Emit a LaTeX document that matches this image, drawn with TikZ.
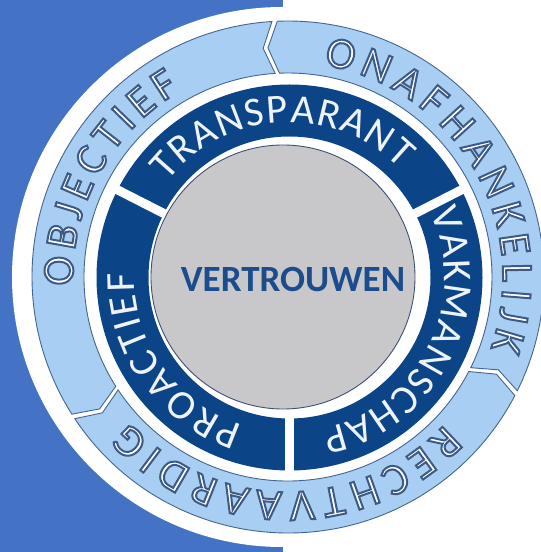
\documentclass[tikz,border=0pt]{standalone}
\usepackage{fontspec}
\setmainfont{Carlito}
\newfontfamily\ringfont{Carlito}
\newfontfamily\ringfontedge[FakeBold=4.5]{Carlito}
\usetikzlibrary{decorations.text}

\definecolor{bgblue}{HTML}{4472C4}
\definecolor{lightring}{HTML}{A8CEF4}
\definecolor{ringline}{HTML}{46658E}
\definecolor{darkring}{HTML}{0B4587}
\definecolor{ringtext}{HTML}{EEF3FA}
\definecolor{core}{HTML}{C8C8CB}
\definecolor{coreline}{HTML}{3E5078}
\definecolor{coretext}{HTML}{1B4C8C}

% fonts for the lettering on the rings
\newcommand\darkletters{\ringfont\fontsize{41}{41}\selectfont\color{ringtext}}
% white letters whose stroked edge is drawn in a dark slate blue
\newcommand\lightletters{\ringfontedge\fontsize{44}{44}\selectfont\color{white}%
  \special{pdf:literal direct 0.235 0.353 0.514 RG}}

% one chevron piece of the outer ring: #1 = clockwise (notched) end, #2 = counter-clockwise (pointed) end
\newcommand\lightseg[2]{%
  \filldraw[lightpiece] (#1:256) arc[start angle=#1, end angle=#2, radius=256]
    -- ({#2+2.6}:230) -- (#2:204) arc[start angle=#2, end angle=#1, radius=204]
    -- ({#1+2.6}:230) -- cycle;}

% outlined lettering on the outer ring, running clockwise from #2 to #3
\newcommand\lightlabel[3]{%
  \path[decorate, decoration={text along path, text={|\lightletters|#1}, text align=fit to path}]
    (#2:215) arc[start angle=#2, end angle=#3, radius=215];}

% lettering on the dark ring, running clockwise from #2 to #3
\newcommand\darklabel[3]{%
  \path[decorate, decoration={text along path, text={|\darkletters|#1}, text align=fit to path}]
    (#2:155) arc[start angle=#2, end angle=#3, radius=155];}

\begin{document}
\begin{tikzpicture}[x=1pt, y=1pt,
  lightpiece/.style={fill=lightring, draw=ringline, line width=0.9pt, line join=miter}]
\useasboundingbox (0,0) rectangle (541,552);

% backdrop: blue left half and the white disc
\begin{scope}
  \clip (0,0) rectangle (541,552);
  \fill[bgblue] (0,0) rectangle (283,552);
  \fill[white] (282,275) circle[radius=270];
\end{scope}

% outer ring of three chevron pieces
\begin{scope}[shift={(288,275)}]
  \lightseg{-26.4}{92.4}
  \lightseg{93.6}{212.4}
  \lightseg{-146.4}{-27.6}
  \lightlabel{ONAFHANKELIJK}{80.5}{-19.4}
  \lightlabel{OBJECTIEF}{182.3}{120.2}
  \lightlabel{RECHTVAARDIG}{316.7}{222.5}
\end{scope}

% dark middle ring, cut in three
\begin{scope}[shift={(289.5,274.5)}]
  \fill[darkring, even odd rule] (0,0) circle[radius=193] (0,0) circle[radius=141];
  \foreach \a in {27,153,270}
    \draw[white, line width=9pt] (\a:136) -- (\a:198);
  \darklabel{TRANSPARANT}{142}{44.6}
  \darklabel{VAKMANSCHAP}{24.8}{-78}
  \darklabel{PROACTIEF}{252.4}{178.3}
\end{scope}

% grey core
\filldraw[fill=core, draw=coreline, line width=0.9pt] (283,275) circle[radius=132];
\node[font=\bfseries\fontsize{37}{40}\selectfont, text=coretext] (core) at (293,272) {VERTROUWEN};
\end{tikzpicture}
\end{document}
